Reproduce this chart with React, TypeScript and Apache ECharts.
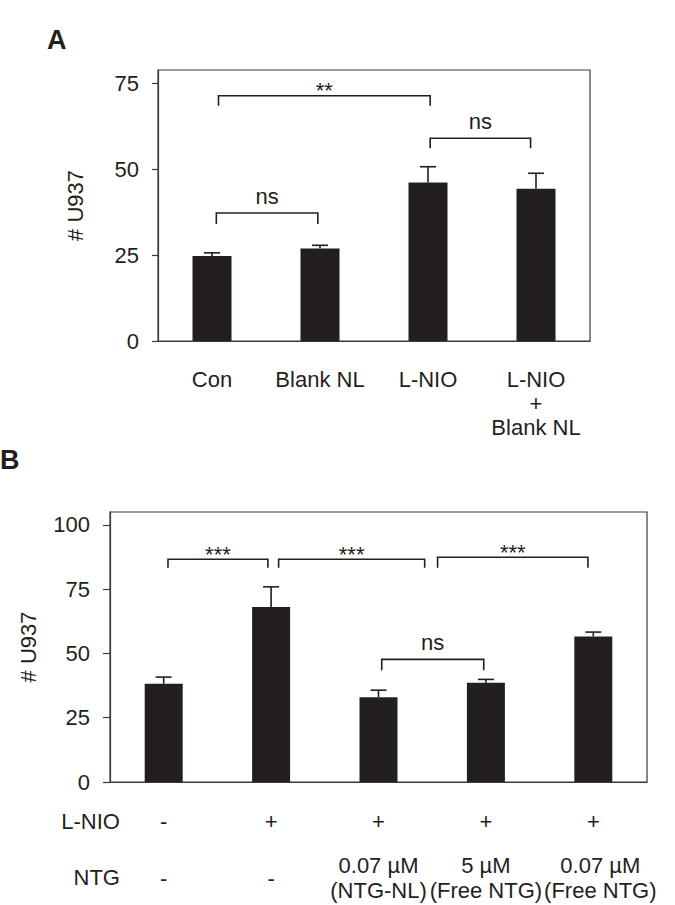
import React, { useEffect, useRef } from "react";
import * as echarts from "echarts";

// ---------- Panel A data ----------
const categoriesA = ["Con", "Blank NL", "L-NIO", "L-NIO\n+\nBlank NL"];
const meansA = [24.8, 27.0, 46.2, 44.4];
const errTopsA = [25.7, 27.9, 50.8, 48.9];
const ticksA = [0, 25, 50, 75];
// [fromIndex, toIndex, barHeight, legEnd]
const bracketsA = [
  [0.06, 2.02, 71.5, 68.6],
  [0.04, 0.98, 37.3, 34.1],
  [2.02, 2.95, 59.1, 56.2],
];
const bracketLabelsA = ["**", "ns", "ns"];

// ---------- Panel B data ----------
const groupIdsB = ["g1", "g2", "g3", "g4", "g5"];
const lnioRowB = ["-", "+", "+", "+", "+"];
const ntgRowB = ["-", "-", "0.07 µM\n(NTG-NL)", "5 µM\n(Free NTG)", "0.07 µM\n(Free NTG)"];
const meansB = [38.2, 68.1, 33.0, 38.6, 56.6];
const errTopsB = [40.8, 75.9, 35.7, 39.9, 58.3];
const ticksB = [0, 25, 50, 75, 100];
const bracketsB = [
  [0.04, 0.97, 86.6, 83.3],
  [1.07, 2.43, 86.6, 83.3],
  [2.55, 3.95, 87.4, 83.3],
  [2.03, 2.98, 47.7, 43.5],
];
const bracketLabelsB = ["***", "***", "***", "ns"];

const DARK = "#231f20";
const AXIS = "#3a3a3a";
const FONT = "'Liberation Sans', Arial, Helvetica, sans-serif";
const FS = 22;

function errorRender(params: any, api: any) {
  const i = api.value(0);
  const base = api.coord([i, api.value(1)]);
  const top = api.coord([i, api.value(2)]);
  const st = { stroke: DARK, lineWidth: 1.6 };
  return {
    type: "group",
    children: [
      { type: "line", shape: { x1: base[0], y1: base[1], x2: top[0], y2: top[1] }, style: st },
      { type: "line", shape: { x1: top[0] - 8, y1: top[1], x2: top[0] + 8, y2: top[1] }, style: st },
    ],
  };
}

function makeBracketRender(labels: string[]) {
  return (params: any, api: any) => {
    const x1 = api.value(0);
    const x2 = api.value(1);
    const yb = api.value(2);
    const yl = api.value(3);
    const a = api.coord([x1, yl]);
    const b = api.coord([x1, yb]);
    const c = api.coord([x2, yb]);
    const d = api.coord([x2, yl]);
    const label = labels[params.dataIndex];
    const isStar = label.indexOf("*") >= 0;
    return {
      type: "group",
      children: [
        {
          type: "polyline",
          shape: { points: [a, b, c, d] },
          style: { stroke: DARK, lineWidth: 1.6, fill: "none" },
        },
        {
          type: "text",
          x: (b[0] + c[0]) / 2,
          y: b[1] + (isStar ? -5 : -17),
          style: {
            text: label,
            fontSize: FS,
            fontFamily: FONT,
            fill: DARK,
            align: "center",
            verticalAlign: "middle",
          },
        },
      ],
    };
  };
}

export default function App() {
  const ref = useRef<HTMLDivElement>(null);

  useEffect(() => {
    if (!ref.current) return;
    const chart = echarts.init(ref.current, null, { renderer: "svg" });

    const lastIdx = ntgRowB.length - 1;

    const option: any = {
      animation: false,
      backgroundColor: "#ffffff",
      textStyle: { fontFamily: FONT },
      grid: [
        { left: 158, top: 70, width: 432, height: 271, show: true, borderColor: AXIS, borderWidth: 1.2, backgroundColor: "transparent" },
        { left: 110, top: 512, width: 537, height: 270, show: true, borderColor: AXIS, borderWidth: 1.2, backgroundColor: "transparent" },
      ],
      xAxis: [
        {
          type: "category",
          gridIndex: 0,
          data: categoriesA,
          axisLine: { show: true, onZero: false, lineStyle: { color: AXIS, width: 1.2 } },
          axisTick: { show: false },
          axisLabel: { interval: 0, margin: 26, fontSize: FS, lineHeight: 24, color: DARK, fontFamily: FONT },
        },
        { type: "value", gridIndex: 0, min: -0.5, max: 3.5, show: false, splitLine: { show: false } },
        {
          type: "category",
          gridIndex: 1,
          data: groupIdsB,
          axisLine: { show: true, onZero: false, lineStyle: { color: AXIS, width: 1.2 } },
          axisTick: { show: false },
          axisLabel: {
            interval: 0,
            margin: 39,
            fontSize: FS,
            color: DARK,
            fontFamily: FONT,
            verticalAlign: "middle",
            formatter: (_v: string, idx: number) => lnioRowB[idx],
          },
        },
        {
          type: "category",
          gridIndex: 1,
          data: groupIdsB,
          position: "bottom",
          axisLine: { show: false, onZero: false },
          axisTick: { show: false },
          axisLabel: {
            interval: 0,
            margin: 96,
            fontSize: FS,
            lineHeight: 25,
            color: DARK,
            fontFamily: FONT,
            verticalAlign: "middle",
            formatter: (_v: string, idx: number) => {
              const t = ntgRowB[idx];
              if (idx === lastIdx) {
                return t.split("\n").map((s) => "{s|" + s + "}").join("\n");
              }
              return t;
            },
            rich: {
              s: {
                fontSize: FS,
                lineHeight: 25,
                color: DARK,
                fontFamily: FONT,
                padding: [0, 0, 0, 14],
              },
            },
          },
        },
        { type: "value", gridIndex: 1, min: -0.5, max: 4.5, show: false, splitLine: { show: false } },
      ],
      yAxis: [
        {
          type: "value",
          gridIndex: 0,
          min: 0,
          max: 79,
          interval: 25,
          axisLine: { show: true, onZero: false, lineStyle: { color: AXIS, width: 1.2 } },
          axisTick: { show: true, length: 6, customValues: ticksA, lineStyle: { color: AXIS, width: 1.2 } },
          axisLabel: { customValues: ticksA, fontSize: FS, color: DARK, margin: 19, fontFamily: FONT },
          splitLine: { show: false },
          name: "# U937",
          nameLocation: "middle",
          nameGap: 72,
          nameTextStyle: { fontSize: FS, color: DARK, fontFamily: FONT },
        },
        {
          type: "value",
          gridIndex: 1,
          min: 0,
          max: 105,
          interval: 25,
          axisLine: { show: true, onZero: false, lineStyle: { color: AXIS, width: 1.2 } },
          axisTick: { show: true, length: 7, customValues: ticksB, lineStyle: { color: AXIS, width: 1.2 } },
          axisLabel: { customValues: ticksB, fontSize: FS, color: DARK, margin: 20, fontFamily: FONT },
          splitLine: { show: false },
          name: "# U937",
          nameLocation: "middle",
          nameGap: 71,
          nameTextStyle: { fontSize: FS, color: DARK, fontFamily: FONT },
        },
      ],
      series: [
        {
          type: "bar",
          xAxisIndex: 0,
          yAxisIndex: 0,
          data: meansA,
          barWidth: 39,
          itemStyle: { color: DARK },
          z: 2,
        },
        {
          type: "custom",
          xAxisIndex: 1,
          yAxisIndex: 0,
          data: meansA.map((m, i) => [i, m, errTopsA[i]]),
          renderItem: errorRender,
          z: 3,
        },
        {
          type: "custom",
          xAxisIndex: 1,
          yAxisIndex: 0,
          data: bracketsA,
          renderItem: makeBracketRender(bracketLabelsA),
          z: 4,
        },
        {
          type: "bar",
          xAxisIndex: 2,
          yAxisIndex: 1,
          data: meansB,
          barWidth: 38,
          itemStyle: { color: DARK },
          z: 2,
        },
        {
          type: "custom",
          xAxisIndex: 4,
          yAxisIndex: 1,
          data: meansB.map((m, i) => [i, m, errTopsB[i]]),
          renderItem: errorRender,
          z: 3,
        },
        {
          type: "custom",
          xAxisIndex: 4,
          yAxisIndex: 1,
          data: bracketsB,
          renderItem: makeBracketRender(bracketLabelsB),
          z: 4,
        },
      ],
      graphic: [
        {
          type: "text",
          left: 47,
          top: 26,
          style: { text: "A", fontSize: 27, fontWeight: "bold", fontFamily: FONT, fill: DARK },
        },
        {
          type: "text",
          left: 0,
          top: 446,
          style: { text: "B", fontSize: 27, fontWeight: "bold", fontFamily: FONT, fill: DARK },
        },
        {
          type: "text",
          x: 120,
          y: 821,
          style: { text: "L-NIO", fontSize: FS, fontFamily: FONT, fill: DARK, align: "right", verticalAlign: "middle" },
        },
        {
          type: "text",
          x: 120,
          y: 877,
          style: { text: "NTG", fontSize: FS, fontFamily: FONT, fill: DARK, align: "right", verticalAlign: "middle" },
        },
      ],
    };

    chart.setOption(option);
    return () => chart.dispose();
  }, []);

  return (
    <div
      ref={ref}
      style={{ position: "fixed", left: 0, top: 0, width: 675, height: 905, background: "#fff" }}
    />
  );
}
